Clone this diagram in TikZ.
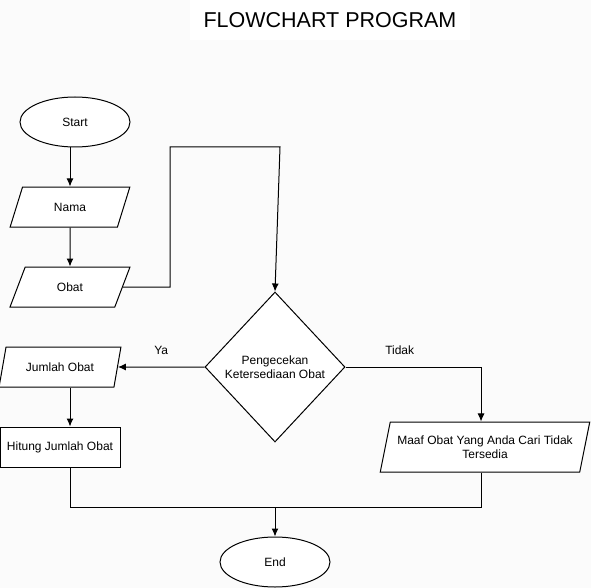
\documentclass[tikz,border=0pt]{standalone}
\usepackage{fontspec}
\setmainfont{Liberation Sans}
\usepackage{tikz}
\usetikzlibrary{arrows.meta,backgrounds,positioning,shapes}
\definecolor{latar}{RGB}{251,251,251}
\tikzstyle{terminal}=[
	ellipse,
	draw=black,
	fill=white,
	minimum width=110,
	minimum height=50]
\tikzstyle{masukan}=[
	trapezium,
	trapezium stretches=true,
	trapezium left angle=63.43,
	trapezium right angle=116.57,
	draw=black,
	fill=white,
	inner sep=0,
	minimum width=120,
	minimum height=40,
	align=center]
\tikzstyle{proses}=[
	rectangle,
	draw=black,
	fill=white,
	minimum width=120,
	minimum height=40]
\tikzstyle{keputusan}=[
	diamond,
	draw=black,
	fill=white,
	inner sep=0,
	minimum width=140,
	minimum height=150,
	align=center]

\begin{document}
\begin{tikzpicture}[x=1pt,y=1pt,>={Latex[length=8pt,width=7pt]},line width=1pt,
		every node/.style={font=\fontsize{12}{14.4}\selectfont}]
	\fill[latar] (0,0) rectangle (591,-588);
	\useasboundingbox (0,0) rectangle (591,-588);
	\node[fill=white,minimum width=280,minimum height=40,font=\fontsize{21.5}{24}\selectfont] (judul) at (330,-20) {FLOWCHART PROGRAM};
	\node[terminal] (start) at (75,-122) {Start};
	\node[masukan] (nama) [below=39pt of start,xshift=-5pt] {Nama};
	\node[masukan] (obat) [below=39pt of nama] {Obat};
	\node[keputusan] (cek) at (275,-367) {Pengecekan\\Ketersediaan Obat};
	\node[masukan,minimum width=122] (jumlah) at (60,-367) {Jumlah Obat};
	\node[proses] (hitung) [below=39pt of jumlah] {Hitung Jumlah Obat};
	\node[masukan,minimum width=210,minimum height=50,trapezium left angle=68.2,trapezium right angle=111.8] (maaf) at (485,-447) {Maaf Obat Yang Anda Cari Tidak\\Tersedia};
	\node[terminal] (end) at (275,-562) {End};
	\coordinate (b1) at (170,-147);
	\coordinate (b2) at (280,-147);
	\coordinate (gabung) at (275,-507);
	\draw[->] (nama.north |- start.south) -- (nama.north);
	\draw[->] (nama) -- (obat);
	\draw[->] (obat.east) -| (b1) -- (b2) -- (cek.north);
	\draw[->] (cek.west) -- node[midway,above=9pt] {Ya} (jumlah.east);
	\draw[->] (cek.east) -| node[pos=0.2,above=9pt] {Tidak} ([xshift=-4pt]maaf.north);
	\draw[->] ([xshift=10pt]jumlah.south) -- ([xshift=10pt]hitung.north);
	\draw ([xshift=10pt]hitung.south) |- (gabung);
	\draw ([xshift=-4pt]maaf.south) |- (gabung);
	\draw[->] (gabung) -- (end);
\end{tikzpicture}
\end{document}
